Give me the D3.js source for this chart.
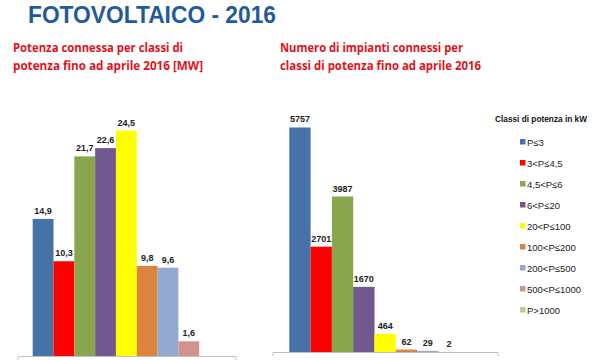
<!DOCTYPE html>
<html><head><meta charset="utf-8">
<script src="https://cdn.jsdelivr.net/npm/d3@7"></script>
<style>body{margin:0;background:#fff}svg{display:block}</style>
</head><body>
<svg id="c" width="600" height="360"></svg>
<script>
const categories = ["P≤3","3<P≤4,5","4,5<P≤6","6<P≤20","20<P≤100","100<P≤200","200<P≤500","500<P≤1000","P>1000"];
const powerMW = [14.9, 10.3, 21.7, 22.6, 24.5, 9.8, 9.6, 1.6, null];
const plantCount = [5757, 2701, 3987, 1670, 464, 62, 29, 2, null];
const colors = ["#4572A7","#FF0000","#89A54E","#71588F","#FFFF00","#DB843D","#93A9CF","#D19392","#B9CD96"];
const title = "FOTOVOLTAICO - 2016";
const leftTitle = ["Potenza connessa per classi di","potenza fino ad aprile 2016 [MW]"];
const rightTitle = ["Numero di impianti connessi per","classi di potenza fino ad aprile 2016"];
const legendTitle = "Classi di potenza in kW";

const svg = d3.select("#c");
const color = d3.scaleOrdinal().domain(categories).range(colors);

svg.append("text").attr("x",28).attr("y",23).attr("textLength",248).attr("lengthAdjust","spacingAndGlyphs")
  .attr("font-family","Liberation Sans, Arial, sans-serif").attr("font-weight","bold").attr("font-size",23)
  .attr("fill","#1F5B99").text(title);

function subtitle(lines, x, widths){
  lines.forEach((l,i)=>svg.append("text").attr("x",x).attr("y",52+i*18)
    .attr("textLength",widths[i]).attr("lengthAdjust","spacingAndGlyphs")
    .attr("font-family","Open Sans, Liberation Sans, sans-serif").attr("font-weight","bold").attr("font-size",12)
    .attr("fill","#E2101B").text(l));
}
subtitle(leftTitle, 13, [170, 190]);
subtitle(rightTitle, 280, [183, 201]);

function chart(values, xr, yBase, yMax, yTop, axisR, fmt){
  const x = d3.scaleBand().domain(categories).range(xr).padding(0);
  const y = d3.scaleLinear().domain([0,yMax]).range([yBase,yTop]);
  const data = categories.map((c,i)=>({c, v: values[i]})).filter(d=>d.v!==null);
  const g = svg.append("g");
  g.selectAll("rect").data(data).join("rect")
    .attr("x",d=>x(d.c)).attr("width",x.bandwidth())
    .attr("y",d=>y(d.v)).attr("height",d=>yBase-y(d.v))
    .attr("fill",d=>color(d.c));
  g.selectAll("text.v").data(data).join("text").attr("class","v")
    .attr("x",d=>x(d.c)+x.bandwidth()/2).attr("y",d=>y(d.v)-5)
    .attr("text-anchor","middle").attr("font-family","Liberation Sans, Arial, sans-serif")
    .attr("font-weight","bold").attr("font-size",9).attr("fill","#222")
    .text(d=>fmt(d.v));
  const ax = d3.scaleLinear().domain([0,1]).range(axisR);
  const axg = svg.append("g").attr("transform",`translate(0,${yBase})`)
    .call(d3.axisBottom(ax).tickValues([]).tickSizeOuter(4));
  axg.select(".domain").attr("stroke","#bfbfbf");
}
chart(powerMW, [32.7, 220], 356, 30, 80, [17.5, 235.5], v=>d3.format(".1f")(v).replace(".",","));
chart(plantCount, [289.3, 481], 352, 7000, 79, [272.5, 497.5], v=>String(v));

// legend
svg.append("text").attr("x",541).attr("y",122).attr("text-anchor","middle")
  .attr("textLength",92).attr("lengthAdjust","spacingAndGlyphs")
  .attr("font-family","Liberation Sans, Arial, sans-serif").attr("font-weight","bold").attr("font-size",9)
  .attr("fill","#111").text(legendTitle);
const lg = svg.append("g").selectAll("g").data(categories).join("g")
  .attr("transform",(d,i)=>`translate(520,${142+i*21})`);
lg.append("rect").attr("x",0).attr("y",-3).attr("width",5.5).attr("height",5.5).attr("fill",d=>color(d));
lg.append("text").attr("x",7).attr("y",3.5).attr("font-family","Liberation Sans, Arial, sans-serif")
  .attr("font-size",9.5).attr("fill","#222").text(d=>d);
</script>
</body></html>
